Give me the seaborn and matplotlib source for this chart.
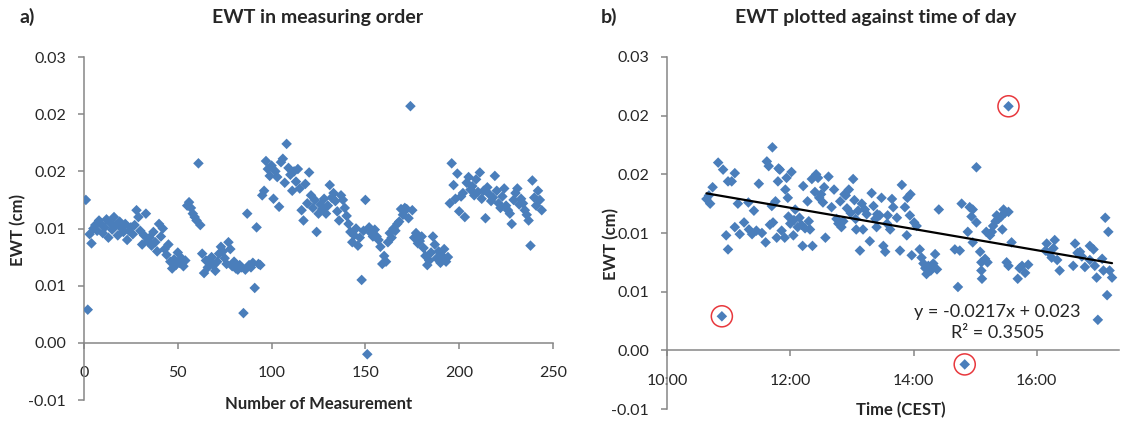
import numpy as np
import pandas as pd
import seaborn as sns
import matplotlib
matplotlib.use("Agg")
import matplotlib.pyplot as plt

# ---------------- data ----------------
# Panel a: EWT (cm) in measuring order (measurement number 1..N)
ewt_order = [
    0.0125, 0.0029, 0.0095, 0.0087, 0.0100, 0.0103, 0.0098, 0.0107, 0.0104, 0.0096,
    0.0101, 0.0108, 0.0092, 0.0105, 0.0099, 0.0110, 0.0103, 0.0094, 0.0106, 0.0100,
    0.0097, 0.0104, 0.0090, 0.0098, 0.0101, 0.0095, 0.0103, 0.0116, 0.0110, 0.0098,
    0.0086, 0.0094, 0.0113, 0.0089, 0.0092, 0.0085, 0.0097, 0.0088, 0.0080, 0.0104,
    0.0093, 0.0100, 0.0082, 0.0077, 0.0086, 0.0071, 0.0065, 0.0073, 0.0068, 0.0079,
    0.0070, 0.0074, 0.0067, 0.0072, 0.0120, 0.0123, 0.0118, 0.0113, 0.0110, 0.0107,
    0.0157, 0.0103, 0.0078, 0.0061, 0.0072, 0.0066, 0.0070, 0.0075, 0.0068, 0.0063,
    0.0071, 0.0078, 0.0084, 0.0080, 0.0074, 0.0069, 0.0088, 0.0082, 0.0067, 0.0071,
    0.0065, 0.0064, 0.0068, 0.0066, 0.0026, 0.0064, 0.0113, 0.0068, 0.0066, 0.0070,
    0.0048, 0.0101, 0.0069, 0.0068, 0.0129, 0.0133, 0.0159, 0.0152, 0.0146, 0.0155,
    0.0126, 0.0150, 0.0145, 0.0119, 0.0158, 0.0161, 0.0140, 0.0174, 0.0153, 0.0147,
    0.0133, 0.0150, 0.0141, 0.0152, 0.0135, 0.0116, 0.0107, 0.0139, 0.0122, 0.0149,
    0.0129, 0.0118, 0.0125, 0.0097, 0.0113, 0.0121, 0.0117, 0.0126, 0.0113, 0.0120,
    0.0138, 0.0127, 0.0131, 0.0124, 0.0115, 0.0107, 0.0129, 0.0125, 0.0118, 0.0111,
    0.0104, 0.0097, 0.0088, 0.0094, 0.0100, 0.0085, 0.0092, 0.0055, 0.0098, 0.0125,
    -0.0010, 0.0101, 0.0096, 0.0093, 0.0099, 0.0093, 0.0090, 0.0084, 0.0069, 0.0076,
    0.0071, 0.0088, 0.0096, 0.0092, 0.0100, 0.0098, 0.0104, 0.0106, 0.0117, 0.0112,
    0.0118, 0.0117, 0.0109, 0.0207, 0.0116, 0.0092, 0.0096, 0.0087, 0.0089, 0.0093,
    0.0083, 0.0076, 0.0068, 0.0072, 0.0079, 0.0093, 0.0086, 0.0074, 0.0080, 0.0070,
    0.0076, 0.0082, 0.0071, 0.0075, 0.0122, 0.0157, 0.0138, 0.0126, 0.0148, 0.0115,
    0.0128, 0.0131, 0.0110, 0.0140, 0.0145, 0.0134, 0.0137, 0.0129, 0.0143, 0.0132,
    0.0149, 0.0126, 0.0133, 0.0109, 0.0136, 0.0130, 0.0124, 0.0127, 0.0146, 0.0133,
    0.0122, 0.0118, 0.0128, 0.0135, 0.0120, 0.0116, 0.0113, 0.0104, 0.0125, 0.0131,
    0.0135, 0.0121, 0.0126, 0.0122, 0.0116, 0.0112, 0.0107, 0.0085, 0.0142, 0.0127,
    0.0120, 0.0133, 0.0125, 0.0116,
]
measurement_no = list(range(1, len(ewt_order) + 1))

# Panel b: EWT (cm) against time of day (decimal hours, CEST)
time_hours = [
    10.64, 10.68, 10.70, 10.74, 10.83, 10.89, 10.91, 10.96, 10.99, 10.99,
    11.05, 11.10, 11.10, 11.15, 11.18, 11.25, 11.32, 11.33, 11.38, 11.41,
    11.45, 11.49, 11.54, 11.60, 11.62, 11.65, 11.67, 11.70, 11.71, 11.72,
    11.76, 11.78, 11.80, 11.81, 11.83, 11.86, 11.91, 11.92, 11.94, 11.96,
    11.97, 12.00, 12.02, 12.05, 12.06, 12.08, 12.12, 12.15, 12.18, 12.20,
    12.21, 12.24, 12.28, 12.30, 12.32, 12.35, 12.36, 12.42, 12.40, 12.45,
    12.47, 12.50, 12.53, 12.55, 12.57, 12.62, 12.67, 12.71, 12.75, 12.78,
    12.81, 12.83, 12.86, 12.88, 12.90, 12.92, 12.95, 12.98, 13.02, 13.04,
    13.06, 13.07, 13.10, 13.13, 13.16, 13.18, 13.21, 13.24, 13.29, 13.32,
    13.35, 13.38, 13.40, 13.41, 13.45, 13.48, 13.51, 13.54, 13.57, 13.58,
    13.62, 13.65, 13.67, 13.73, 13.78, 13.81, 13.86, 13.89, 13.90, 13.94,
    13.95, 13.97, 14.01, 14.05, 14.10, 14.13, 14.16, 14.19, 14.21, 14.24,
    14.28, 14.32, 14.35, 14.38, 14.41, 14.67, 14.72, 14.75, 14.78, 14.83,
    14.88, 14.91, 14.94, 14.96, 14.96, 15.02, 15.02, 15.08, 15.10, 15.10,
    15.11, 15.16, 15.18, 15.20, 15.24, 15.27, 15.29, 15.33, 15.35, 15.38,
    15.42, 15.44, 15.46, 15.48, 15.51, 15.54, 15.54, 15.54, 15.59, 15.69,
    15.72, 15.76, 15.81, 15.86, 16.14, 16.16, 16.20, 16.24, 16.27, 16.29,
    16.33, 16.37, 16.59, 16.62, 16.66, 16.70, 16.73, 16.78, 16.86, 16.86,
    16.92, 16.94, 16.97, 16.99, 17.06, 17.08, 17.11, 17.14, 17.16, 17.18,
    17.22,
]
ewt_time = [
    0.0129, 0.0132, 0.0125, 0.0139, 0.0160, 0.0029, 0.0154, 0.0098, 0.0086, 0.0144,
    0.0144, 0.0151, 0.0105, 0.0125, 0.0099, 0.0109, 0.0126, 0.0103, 0.0099, 0.0119,
    0.0102, 0.0142, 0.0100, 0.0092, 0.0161, 0.0157, 0.0107, 0.0123, 0.0173, 0.0109,
    0.0127, 0.0096, 0.0144, 0.0155, 0.0154, 0.0102, 0.0096, 0.0137, 0.0147, 0.0130,
    0.0114, 0.0108, 0.0152, 0.0098, 0.0111, 0.0120, 0.0105, 0.0113, 0.0107, 0.0089,
    0.0140, 0.0104, 0.0127, 0.0110, 0.0103, 0.0146, 0.0089, 0.0150, 0.0135, 0.0147,
    0.0130, 0.0133, 0.0126, 0.0139, 0.0096, 0.0148, 0.0122, 0.0137, 0.0112, 0.0108,
    0.0127, 0.0105, 0.0110, 0.0133, 0.0132, 0.0121, 0.0137, 0.0117, 0.0146, 0.0128,
    0.0112, 0.0103, 0.0119, 0.0085, 0.0125, 0.0103, 0.0120, 0.0116, 0.0093, 0.0134,
    0.0123, 0.0112, 0.0105, 0.0116, 0.0115, 0.0130, 0.0089, 0.0084, 0.0108, 0.0115,
    0.0103, 0.0129, 0.0122, 0.0113, 0.0085, 0.0141, 0.0122, 0.0098, 0.0130, 0.0115,
    0.0133, 0.0081, 0.0109, 0.0106, 0.0086, 0.0079, 0.0074, 0.0070, 0.0065, 0.0072,
    0.0068, 0.0074, 0.0082, 0.0069, 0.0120, 0.0086, 0.0054, 0.0085, 0.0125, -0.0012,
    0.0101, 0.0122, 0.0114, 0.0092, 0.0120, 0.0109, 0.0156, 0.0084, 0.0075, 0.0068,
    0.0061, 0.0078, 0.0101, 0.0075, 0.0098, 0.0101, 0.0106, 0.0110, 0.0115, 0.0112,
    0.0114, 0.0103, 0.0120, 0.0117, 0.0075, 0.0208, 0.0118, 0.0072, 0.0092, 0.0061,
    0.0070, 0.0072, 0.0066, 0.0073, 0.0085, 0.0091, 0.0083, 0.0079, 0.0087, 0.0094,
    0.0077, 0.0068, 0.0072, 0.0091, 0.0083, 0.0084, 0.0080, 0.0071, 0.0089, 0.0077,
    0.0086, 0.0072, 0.0062, 0.0026, 0.0078, 0.0068, 0.0113, 0.0047, 0.0101, 0.0068,
    0.0062,
]

# circled outliers in panel b
circled_hours = [10.89, 14.83, 15.54]
circled_ewt = [0.0029, -0.0012, 0.0208]

# linear trend (x in fraction of a day)
trend_slope = -0.0217
trend_intercept = 0.023
trend_label = "y = -0.0217x + 0.023\nR² = 0.3505"

y_ticks = [-0.005, 0.0, 0.005, 0.01, 0.015, 0.02, 0.025]
y_tick_labels = ["-0.01", "0.00", "0.01", "0.01", "0.02", "0.02", "0.03"]
xa_ticks = [0, 50, 100, 150, 200, 250]
xb_ticks = [10, 12, 14, 16]
xb_tick_labels = ["10:00", "12:00", "14:00", "16:00"]

# ---------------- style ----------------
sns.set_style("white")
plt.rcParams["font.family"] = ["Lato", "DejaVu Sans"]

BLUE = "#4A7EBB"
GREY = "#868686"
RED = "#E8383D"

W, H = 1121, 423
fig = plt.figure(figsize=(W / 100, H / 100), dpi=100)

def px_axes(left, top, right, bottom):
    return fig.add_axes([left / W, 1 - bottom / H, (right - left) / W, (bottom - top) / H])

ax_a = px_axes(84, 57, 553, 400)
ax_b = px_axes(667, 57, 1119, 409)

df_a = pd.DataFrame({"n": measurement_no, "ewt": ewt_order})
df_b = pd.DataFrame({"t": time_hours, "ewt": ewt_time})

sns.scatterplot(data=df_a, x="n", y="ewt", ax=ax_a, marker="D", s=29,
                color=BLUE, edgecolor="none", linewidth=0, zorder=3)
sns.scatterplot(data=df_b, x="t", y="ewt", ax=ax_b, marker="D", s=29,
                color=BLUE, edgecolor="none", linewidth=0, zorder=3)

# trend line
t_line = np.array([min(time_hours), max(time_hours)])
y_line = trend_intercept + trend_slope * t_line / 24.0
sns.lineplot(x=t_line, y=y_line, ax=ax_b, color="black", linewidth=1.6, zorder=4)

# red circles
ax_b.scatter(circled_hours, circled_ewt, s=230, facecolors="none",
             edgecolors=RED, linewidths=1.1, zorder=5, clip_on=False)

ax_b.text(15.36, 0.00237, trend_label, ha="center", va="center",
          fontsize=13, linespacing=1.38)

for ax in (ax_a, ax_b):
    ax.set_ylim(-0.005, 0.025)
    ax.set_yticks(y_ticks)
    ax.set_yticklabels(y_tick_labels)
    for s in ("top", "right"):
        ax.spines[s].set_visible(False)
    ax.spines["left"].set_color(GREY)
    ax.spines["bottom"].set_color(GREY)
    ax.spines["left"].set_linewidth(1.1)
    ax.spines["bottom"].set_linewidth(1.1)
    ax.spines["bottom"].set_position(("data", 0))
    ax.tick_params(axis="y", direction="out", length=4, width=1.1, color=GREY,
                   pad=9, labelsize=11.5, left=True)
    ax.tick_params(axis="x", direction="out", length=4, width=1.1, color=GREY,
                   pad=13, labelsize=11.5, bottom=True)

ax_a.set_xlim(0, 250)
ax_a.set_xticks(xa_ticks)
ax_b.set_xlim(10, 17.333)
ax_b.set_xticks(xb_ticks)
ax_b.set_xticklabels(xb_tick_labels)

ax_a.set_xlabel("Number of Measurement", fontsize=12, fontweight="bold")
ax_a.xaxis.set_label_coords(0.5, -0.012)
ax_a.xaxis.label.set_va("center")
ax_b.set_xlabel("Time (CEST)", fontsize=12, fontweight="bold")
ax_b.xaxis.set_label_coords(0.518, -0.003)
ax_b.xaxis.label.set_va("center")

ax_a.set_ylabel("EWT (cm)", fontsize=12, fontweight="bold")
ax_a.yaxis.set_label_coords(-0.141, 0.496)
ax_a.yaxis.label.set_va("center")
ax_b.set_ylabel("EWT (cm)", fontsize=12, fontweight="bold")
ax_b.yaxis.set_label_coords(-0.124, 0.47)
ax_b.yaxis.label.set_va("center")

fig.text(318 / W, 1 - 17 / H, "EWT in measuring order", ha="center", va="center",
         fontsize=14, fontweight="bold")
fig.text(876 / W, 1 - 17 / H, "EWT plotted against time of day", ha="center", va="center",
         fontsize=14, fontweight="bold")
fig.text(20 / W, 1 - 17 / H, "a)", ha="left", va="center", fontsize=14, fontweight="bold")
fig.text(601 / W, 1 - 17 / H, "b)", ha="left", va="center", fontsize=14, fontweight="bold")

fig.savefig("out.png", dpi=100, facecolor="white")
